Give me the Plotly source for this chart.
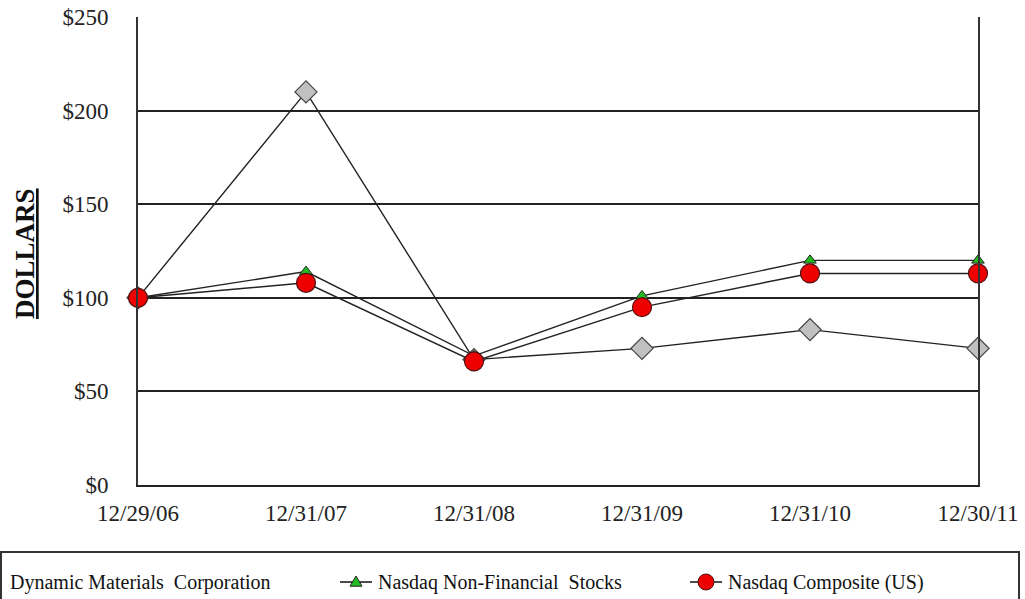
import plotly.graph_objects as go

# Cumulative total return data
dates = ["12/29/06", "12/31/07", "12/31/08", "12/31/09", "12/31/10", "12/30/11"]
dmc = [100, 210, 67, 73, 83, 73]
nasdaq_nonfin = [100, 114, 69, 101, 120, 120]
nasdaq_comp = [100, 108, 66, 95, 113, 113]
y_ticks = [0, 50, 100, 150, 200, 250]
y_tick_text = ["$0", "$50", "$100", "$150", "$200", "$250"]

W, H = 1025, 599
L, R, T, B = 138, 47, 17, 114
PW, PH = W - L - R, H - T - B
FONT = "Liberation Serif"


def px(x):
    return (x - L) / PW


def py(y):
    return (H - B - y) / PH


fig = go.Figure()
fig.add_trace(go.Scatter(
    x=dates, y=dmc, mode="lines+markers", name="Dynamic Materials Corporation",
    line=dict(color="#222222", width=1.4),
    marker=dict(symbol="diamond", size=17, color="#c0c0c0",
                line=dict(color="#444444", width=1.2)),
    cliponaxis=False))
fig.add_trace(go.Scatter(
    x=dates, y=nasdaq_nonfin, mode="lines+markers", name="Nasdaq Non-Financial Stocks",
    line=dict(color="#222222", width=1.4),
    marker=dict(symbol="triangle-up", size=11, color="#22bb22",
                line=dict(color="#222222", width=1)),
    cliponaxis=False))
fig.add_trace(go.Scatter(
    x=dates, y=nasdaq_comp, mode="lines+markers", name="Nasdaq Composite (US)",
    line=dict(color="#222222", width=1.4),
    marker=dict(symbol="circle", size=19, color="#ee0000",
                line=dict(color="#551111", width=1.2)),
    cliponaxis=False))

shapes = []
# legend box
shapes.append(dict(type="rect", xref="paper", yref="paper",
                   x0=px(1), x1=px(1019), y0=py(620), y1=py(552),
                   line=dict(color="#333333", width=2), fillcolor="rgba(0,0,0,0)"))
# legend symbols
ly = 582
for x0, x1 in [(340, 372), (690, 722)]:
    shapes.append(dict(type="line", xref="paper", yref="paper",
                       x0=px(x0), x1=px(x1), y0=py(ly), y1=py(ly),
                       line=dict(color="#111111", width=1.5)))
tx, ts = 356, 6
shapes.append(dict(type="path", xref="paper", yref="paper",
                   path=f"M {px(tx - ts)} {py(ly + ts * 0.7)} L {px(tx + ts)} {py(ly + ts * 0.7)} "
                        f"L {px(tx)} {py(ly - ts)} Z",
                   fillcolor="#22bb22", line=dict(color="#222222", width=1)))
cx, r = 706, 8
shapes.append(dict(type="circle", xref="paper", yref="paper",
                   x0=px(cx - r), x1=px(cx + r), y0=py(ly + r), y1=py(ly - r),
                   fillcolor="#ee0000", line=dict(color="#551111", width=1)))

annotations = [
    dict(text="<b><u>DOLLARS</u></b>", xref="paper", yref="paper",
         x=px(25), y=py(254), xanchor="center", yanchor="middle",
         textangle=-90, showarrow=False,
         font=dict(family=FONT, size=27, color="#111111")),
]
for label, x in [("Dynamic Materials  Corporation", 8),
                 ("Nasdaq Non-Financial  Stocks", 376),
                 ("Nasdaq Composite (US)", 726)]:
    annotations.append(dict(text=label, xref="paper", yref="paper",
                            x=px(x), y=py(ly), xanchor="left", yanchor="middle",
                            showarrow=False,
                            font=dict(family=FONT, size=20, color="#111111")))

fig.update_layout(
    width=W, height=H,
    margin=dict(l=L, r=R, t=T, b=B),
    paper_bgcolor="white", plot_bgcolor="white",
    showlegend=False,
    font=dict(family=FONT, size=20, color="#111111"),
    shapes=shapes, annotations=annotations,
    xaxis=dict(type="category", range=[0, 5], showgrid=False, automargin=False,
               showline=True, linecolor="#222222", linewidth=2,
               ticks="", tickfont=dict(family=FONT, size=23, color="#222222"),
               ticklabelstandoff=6),
    yaxis=dict(range=[0, 250], tickvals=y_ticks, ticktext=y_tick_text, automargin=False,
               showgrid=True, gridcolor="#222222", gridwidth=1.8,
               showline=True, linecolor="#333333", linewidth=1.8, mirror=True,
               zeroline=False, ticks="", tickfont=dict(family=FONT, size=23, color="#222222"),
               ticklabelstandoff=23),
)

fig.write_html("out.html")
